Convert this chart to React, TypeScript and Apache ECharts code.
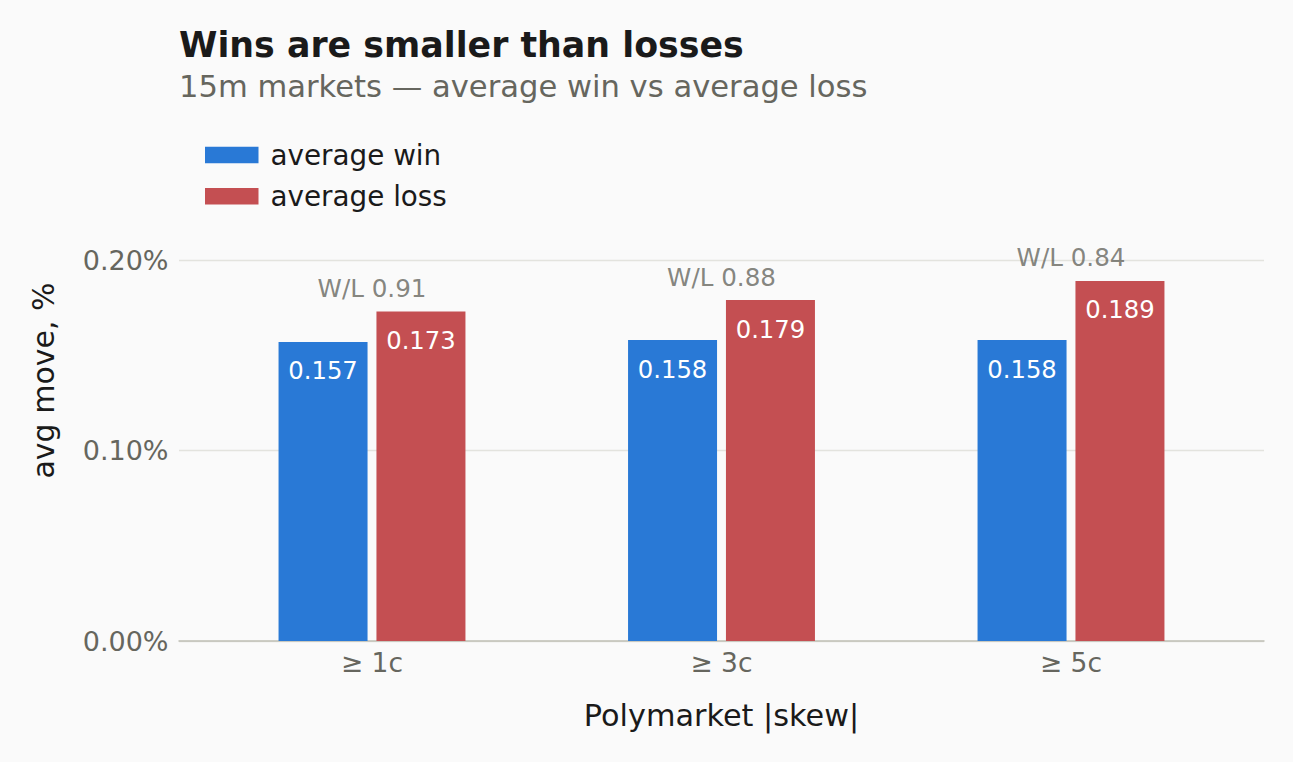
import React, { useEffect, useRef } from "react";
import * as echarts from "echarts";

const categories = ["≥ 1c", "≥ 3c", "≥ 5c"];
const avgWin = [0.157, 0.158, 0.158];
const avgLoss = [0.173, 0.179, 0.189];
const yTicks = [0, 0.1, 0.2];

const FONT = "DejaVu Sans";
const BLUE = "#2979d6";
const RED = "#c44f52";
const DARK = "#1a1a1a";
const GREY = "#66665e";

const App: React.FC = () => {
    const chartRef = useRef<HTMLDivElement>(null);

    useEffect(() => {
        document.body.style.margin = "0";
        document.body.style.background = "#fafafa";
        if (!chartRef.current) return;
        const chart = echarts.init(chartRef.current, undefined, { renderer: "svg" });

        const valueLabel = {
            show: true,
            position: "insideTop",
            distance: 17,
            fontFamily: FONT,
            fontSize: 24.3,
            lineHeight: 24,
            color: "#ffffff",
            formatter: (p: any) => p.value.toFixed(3),
        };

        const options = {
            animation: false,
            backgroundColor: "#fafafa",
            textStyle: { fontFamily: FONT },
            title: [
                {
                    text: "Wins are smaller than losses",
                    left: 179,
                    top: 25,
                    padding: 0,
                    textStyle: { fontFamily: FONT, fontSize: 34.8, fontWeight: "bold", color: DARK, lineHeight: 40 },
                },
                {
                    text: "15m markets — average win vs average loss",
                    left: 179,
                    top: 68,
                    padding: 0,
                    textStyle: { fontFamily: FONT, fontSize: 30.6, fontWeight: "normal", color: GREY, lineHeight: 36 },
                },
            ],
            legend: {
                orient: "vertical",
                left: 205,
                top: 140,
                padding: 0,
                itemWidth: 53.5,
                itemHeight: 16.5,
                itemGap: 11.3,
                icon: "rect",
                data: ["average win", "average loss"],
                textStyle: { fontFamily: FONT, fontSize: 27.8, color: DARK, lineHeight: 30, padding: [0, 0, 0, 7] },
            },
            graphic: [
                {
                    type: "text",
                    x: 43,
                    y: 380.5,
                    rotation: Math.PI / 2,
                    style: {
                        text: "avg move, %",
                        fontFamily: FONT,
                        fontSize: 30,
                        fill: DARK,
                        align: "center",
                        verticalAlign: "middle",
                    },
                },
            ],
            grid: [
                { left: 179, right: 29, top: 260, bottom: 121 },
                { left: 197.25, right: 47.25, top: 260, bottom: 121 },
            ],
            xAxis: [
                {
                    gridIndex: 0,
                    type: "value",
                    min: 0,
                    max: 1,
                    axisLine: { show: true, lineStyle: { color: "#c0c0b6", width: 1.5 } },
                    axisTick: { show: false },
                    axisLabel: { show: false },
                    splitLine: { show: false },
                },
                {
                    gridIndex: 1,
                    type: "category",
                    data: categories,
                    axisLine: { show: false },
                    axisTick: { show: false },
                    axisLabel: { fontFamily: FONT, fontSize: 26.5, color: GREY, margin: 8, lineHeight: 27 },
                    name: "Polymarket |skew|",
                    nameLocation: "middle",
                    nameGap: 59,
                    nameTextStyle: { fontFamily: FONT, fontSize: 30.3, color: DARK, lineHeight: 30 },
                },
            ],
            yAxis: [
                {
                    gridIndex: 0,
                    type: "value",
                    min: yTicks[0],
                    max: yTicks[yTicks.length - 1],
                    interval: 0.1,
                    axisLine: { show: false },
                    axisTick: { show: false },
                    axisLabel: {
                        fontFamily: FONT,
                        fontSize: 27,
                        color: GREY,
                        margin: 10.5,
                        formatter: (v: number) => v.toFixed(2) + "%",
                    },
                    splitLine: { show: true, lineStyle: { color: "#e3e3de", width: 1.3 } },
                },
                {
                    gridIndex: 1,
                    type: "value",
                    min: yTicks[0],
                    max: yTicks[yTicks.length - 1],
                    show: false,
                },
            ],
            series: [
                {
                    name: "average win",
                    type: "bar",
                    xAxisIndex: 1,
                    yAxisIndex: 1,
                    data: avgWin,
                    barWidth: 89,
                    barGap: "10%",
                    itemStyle: { color: BLUE },
                    label: valueLabel,
                },
                {
                    name: "average loss",
                    type: "bar",
                    xAxisIndex: 1,
                    yAxisIndex: 1,
                    data: avgLoss,
                    barWidth: 89,
                    barGap: "10%",
                    itemStyle: { color: RED },
                    label: valueLabel,
                },
                {
                    name: "wl",
                    type: "scatter",
                    xAxisIndex: 1,
                    yAxisIndex: 1,
                    symbolSize: 0,
                    data: avgWin.map((w, i) => Math.max(w, avgLoss[i])),
                    label: {
                        show: true,
                        position: "top",
                        distance: 11,
                        fontFamily: FONT,
                        fontSize: 24.6,
                        lineHeight: 24,
                        color: GREY,
                        formatter: (p: any) =>
                            "W/L " + (avgWin[p.dataIndex] / avgLoss[p.dataIndex]).toFixed(2),
                    },
                    z: 5,
                },
            ],
        };

        chart.setOption(options);

        return () => {
            chart.dispose();
        };
    }, []);

    return <div ref={chartRef} style={{ width: "1293px", height: "762px" }} />;
};

export default App;
